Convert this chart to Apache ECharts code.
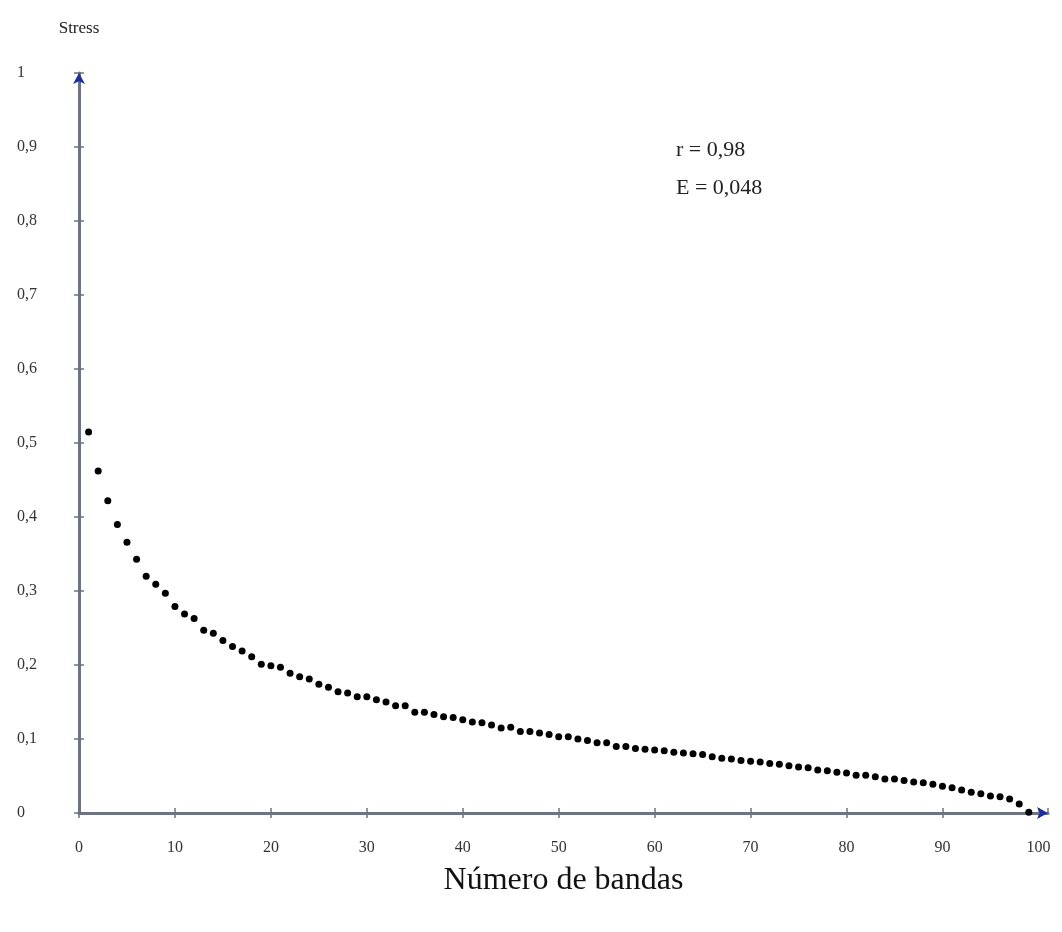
<!DOCTYPE html>
<html>
<head>
<meta charset="utf-8">
<script src="https://cdn.jsdelivr.net/npm/echarts@6/dist/echarts.min.js"></script>
<style>
  html, body { margin: 0; padding: 0; background: #fff; }
  #chart { width: 1062px; height: 932px; }
</style>
</head>
<body>
<div id="chart"></div>
<script>
// número de bandas (x) e stress (y)
const bandas = [];
for (let i = 1; i <= 99; i++) bandas.push(i);
const stress = [
  0.515, 0.462, 0.422, 0.390, 0.366, 0.343, 0.320, 0.309, 0.297, 0.279,
  0.269, 0.263, 0.247, 0.243, 0.233, 0.225, 0.219, 0.211, 0.201, 0.199,
  0.197, 0.189, 0.184, 0.181, 0.174, 0.170, 0.164, 0.162, 0.157, 0.157,
  0.153, 0.150, 0.145, 0.145, 0.136, 0.136, 0.133, 0.130, 0.129, 0.126,
  0.123, 0.122, 0.119, 0.115, 0.116, 0.110, 0.110, 0.108, 0.106, 0.103,
  0.103, 0.100, 0.098, 0.095, 0.095, 0.090, 0.090, 0.087, 0.086, 0.085,
  0.084, 0.082, 0.081, 0.080, 0.079, 0.076, 0.074, 0.073, 0.071, 0.070,
  0.069, 0.067, 0.066, 0.064, 0.062, 0.061, 0.058, 0.057, 0.055, 0.054,
  0.051, 0.051, 0.049, 0.046, 0.046, 0.044, 0.042, 0.041, 0.039, 0.036,
  0.034, 0.031, 0.028, 0.026, 0.023, 0.022, 0.019, 0.012, 0.001
];
const anotacao = ["r = 0,98", "E = 0,048"];

const serif = "Liberation Serif";
const axisGray = "#6e7382";
const arrowBlue = "#1f2e9e";

const fmt = v => (v === 0 || v === 1) ? String(v) : String(v).replace(".", ",");

const chart = echarts.init(document.getElementById("chart"));
chart.setOption({
  animation: false,
  title: {
    text: anotacao.join("\n"),
    left: 671,
    top: 126,
    textStyle: { fontFamily: serif, fontSize: 22, fontWeight: "normal", color: "#222", lineHeight: 38 }
  },
  grid: { left: 79, right: 14, top: 73, bottom: 119 },
  xAxis: [
    {
      type: "value", min: 0, max: 101, interval: 10,
      name: "Número de bandas", nameLocation: "middle", nameGap: 52,
      nameTextStyle: { fontFamily: serif, fontSize: 32, color: "#111" },
      splitLine: { show: false },
      axisLine: { lineStyle: { color: axisGray, width: 3 } },
      axisTick: { length: 5, lineStyle: { color: axisGray, width: 1.5 } },
      axisLabel: { margin: 27, showMaxLabel: false, fontFamily: serif, fontSize: 16, color: "#333" }
    },
    {
      type: "value", min: 0, max: 101, interval: 10, position: "bottom",
      splitLine: { show: false },
      axisLine: { symbol: ["none", "arrow"], symbolSize: [9, 11], lineStyle: { color: arrowBlue, width: 0.01 } },
      axisTick: { inside: true, length: 5, lineStyle: { color: axisGray, width: 1.5 } },
      axisLabel: { show: false }
    }
  ],
  yAxis: [
    {
      type: "value", min: 0, max: 1, interval: 0.1,
      name: "Stress", nameLocation: "end", nameGap: 36,
      nameTextStyle: { fontFamily: serif, fontSize: 17, color: "#222", align: "center" },
      splitLine: { show: false },
      axisLine: { show: true, lineStyle: { color: axisGray, width: 3 } },
      axisTick: { show: true, length: 5, lineStyle: { color: axisGray, width: 1.5 } },
      axisLabel: { margin: 62, align: "left", formatter: fmt, fontFamily: serif, fontSize: 16, color: "#333" }
    },
    {
      type: "value", min: 0, max: 1, interval: 0.1, position: "left",
      splitLine: { show: false },
      axisLine: { show: true, symbol: ["none", "arrow"], symbolSize: [9, 11], lineStyle: { color: arrowBlue, width: 0.01 } },
      axisTick: { show: true, inside: true, length: 5, lineStyle: { color: axisGray, width: 1.5 } },
      axisLabel: { show: false }
    }
  ],
  series: [
    {
      type: "scatter",
      data: bandas.map((b, i) => [b, stress[i]]),
      symbol: "circle",
      symbolSize: 7,
      itemStyle: { color: "#000", opacity: 1 }
    }
  ]
});
</script>
</body>
</html>
